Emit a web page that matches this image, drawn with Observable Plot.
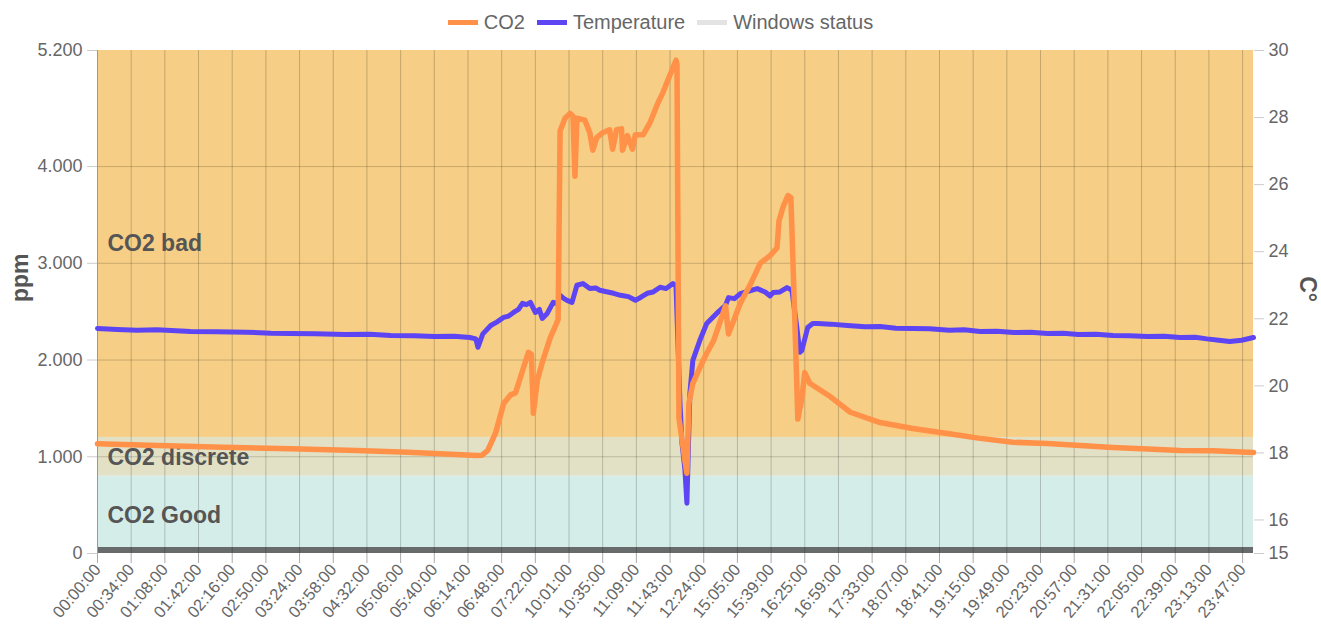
<!DOCTYPE html>
<html><head><meta charset="utf-8">
<script src="https://cdn.jsdelivr.net/npm/d3@7"></script>
<script src="https://cdn.jsdelivr.net/npm/@observablehq/plot@0.6"></script>
<style>
body{margin:0;background:#fff;font-family:"Liberation Sans",Arial,sans-serif;}
#legend{height:44px;display:flex;justify-content:center;align-items:center;font-size:20px;color:#666;}
.item{display:flex;align-items:center;margin:0 6px;}
.sw{width:30px;height:5px;margin-right:6px;}
</style></head><body>
<div id="legend"></div><div id="chart"></div>
<script>
// ---- data ----
const tickLabels = ["00:00:00","00:34:00","01:08:00","01:42:00","02:16:00","02:50:00","03:24:00","03:58:00","04:32:00","05:06:00","05:40:00","06:14:00","06:48:00","07:22:00","10:01:00","10:35:00","11:09:00","11:43:00","12:24:00","15:05:00","15:39:00","16:25:00","16:59:00","17:33:00","18:07:00","18:41:00","19:15:00","19:49:00","20:23:00","20:57:00","21:31:00","22:05:00","22:39:00","23:13:00","23:47:00"];
const pointCount = 1168;

const co2Idx = [0,61,127,195,262,313,346,383,388,394,402,410,417,422,430,435,438,440,444,449,457,463,465,467,472,477,480,482,484,492,497,500,504,510,517,520,524,529,530,535,540,543,551,558,565,571,578,584,585,587,593,595,597,601,608,615,622,629,634,637,642,649,659,669,679,686,688,692,697,700,704,707,711,714,719,740,760,790,823,858,891,924,959,992,1025,1060,1093,1126,1167];
const co2Ppm = [1135,1116,1099,1082,1065,1047,1030,1013,1015,1065,1250,1550,1640,1660,1920,2080,2060,1450,1790,1975,2230,2370,2420,4370,4500,4550,4520,3900,4500,4480,4350,4170,4300,4350,4380,4180,4380,4390,4170,4320,4180,4330,4330,4460,4640,4770,4950,5100,5060,1400,960,830,1550,1760,1920,2070,2200,2410,2560,2270,2400,2590,2780,3000,3080,3160,3440,3580,3700,3680,2400,1390,1600,1870,1760,1620,1460,1354,1292,1240,1190,1150,1137,1116,1096,1080,1065,1062,1045];

const tempIdx = [0,20,40,60,94,120,150,175,195,220,250,275,296,320,340,360,376,382,384,389,397,403,410,415,420,425,429,433,437,442,446,449,454,460,464,467,471,474,479,484,490,497,503,507,515,521,528,536,543,549,555,561,568,574,581,584,588,590,593,595,598,601,608,615,625,634,637,643,649,657,666,674,679,682,689,696,701,706,709,711,717,722,727,740,757,775,790,806,823,840,860,875,891,908,925,942,959,975,990,1008,1025,1042,1060,1077,1093,1108,1120,1132,1143,1155,1167];
const tempC = [21.71,21.68,21.66,21.67,21.62,21.61,21.60,21.57,21.56,21.55,21.53,21.54,21.50,21.49,21.47,21.48,21.44,21.40,21.15,21.55,21.80,21.90,22.04,22.08,22.19,22.28,22.46,22.42,22.49,22.19,22.28,22.01,22.16,22.49,22.45,22.70,22.60,22.55,22.49,23.00,23.05,22.90,22.92,22.85,22.80,22.76,22.70,22.66,22.55,22.65,22.76,22.80,22.94,22.90,23.05,23.00,19.5,18.3,17.5,16.5,19.77,20.76,21.35,21.86,22.16,22.40,22.63,22.60,22.75,22.82,22.90,22.80,22.68,22.78,22.80,22.93,22.85,21.74,21.0,21.05,21.74,21.86,21.86,21.84,21.80,21.76,21.77,21.72,21.71,21.70,21.66,21.67,21.62,21.63,21.59,21.60,21.56,21.57,21.53,21.54,21.50,21.49,21.47,21.48,21.44,21.45,21.40,21.36,21.32,21.36,21.44];

const bandNames = ["CO2 Good","CO2 discrete","CO2 bad"];
const bandLow = [0,800,1200];
const bandHigh = [800,1200,5200];

const windowsStart = [0];
const windowsEnd = [1167];

const leftTicks = [0,1000,2000,3000,4000,5200];
const rightTicks = [15,16,18,20,22,24,26,28,30];

// ---- build ----
const FONT = '"Liberation Sans", Arial, sans-serif';
const xMax = pointCount - 1;
const toPpm = t => (t - 15) / 15 * 5200;
const bandColor = {"CO2 Good":"#d5ede9","CO2 discrete":"#e3e1c5","CO2 bad":"#f6ce85"};
const bandLabelPpm = {"CO2 Good":393,"CO2 discrete":992,"CO2 bad":3205};

const co2Data = co2Idx.map((x,i)=>({x, y: co2Ppm[i]}));
const tempData = tempIdx.map((x,i)=>({x, y: toPpm(tempC[i])}));
const bands = bandNames.map((n,i)=>({name:n, lo:bandLow[i], hi:bandHigh[i]}));
const windows = windowsStart.map((s,i)=>({s, e: windowsEnd[i]}));
const tickIdx = tickLabels.map((_,i)=>i*34);

const legendItems = [["CO2","#ff9148"],["Temperature","#5d45f3"],["Windows status","#e3e3e3"]];
const lg = document.getElementById("legend");
legendItems.forEach(([n,c])=>{
  const it = document.createElement("div"); it.className="item";
  const sw = document.createElement("div"); sw.className="sw"; sw.style.background=c;
  const tx = document.createElement("span"); tx.textContent=n;
  it.appendChild(sw); it.appendChild(tx); lg.appendChild(it);
});

const chart = Plot.plot({
  width:1321, height:593, marginTop:6, marginBottom:84, marginLeft:97, marginRight:68,
  style:{fontFamily:FONT, background:"#fff", overflow:"visible"},
  x:{domain:[0,xMax]},
  y:{domain:[0,5200]},
  color:{type:"identity"},
  marks:[
    Plot.rect(bands, {x1:0, x2:xMax, y1:"lo", y2:"hi", fill:d=>bandColor[d.name]}),
    Plot.rect(windows, {x1:"s", x2:"e", y1:0, y2:62, fill:"#676b6b"}),
    Plot.ruleX(tickIdx, {y1:0, y2:5200, stroke:"#000", strokeOpacity:0.2}),
    Plot.ruleY([1000,2000,3000,4000], {x1:0, x2:xMax, stroke:"#000", strokeOpacity:0.18}),
    Plot.ruleX([0], {y1:0, y2:5200, stroke:"#999"}),
    Plot.axisX(tickIdx, {tickFormat:d=>tickLabels[Math.round(d/34)], tickRotate:-50, tickSize:10, tickPadding:3, fontSize:16.5, fill:"#666", stroke:"#aaa", label:null}),
    Plot.axisY(leftTicks, {anchor:"left", tickFormat:d=>d3.format(",")(d).replace(/,/g,"."), tickSize:10, tickPadding:5, fontSize:18, fill:"#666", stroke:"#ccc", label:null}),
    Plot.axisY(rightTicks.map(toPpm), {anchor:"right", tickFormat:d=>String(Math.round(d/5200*15+15)), tickSize:10, tickPadding:5, fontSize:18, fill:"#666", stroke:"#ccc", label:null}),
    Plot.text(bandNames, {x:10, y:d=>bandLabelPpm[d], text:d=>d, textAnchor:"start", lineAnchor:"middle", fontSize:23, fontWeight:"bold", fill:"#555"}),
    Plot.text(["ppm"], {frameAnchor:"left", dx:-77, rotate:-90, text:d=>d, fontSize:23, fontWeight:"bold", fill:"#555"}),
    Plot.text(["C°"], {frameAnchor:"right", dx:54, rotate:90, text:d=>d, fontSize:23, fontWeight:"bold", fill:"#555"}),
    Plot.line(tempData, {x:"x", y:"y", stroke:"#5d45f3", strokeWidth:5, strokeLinejoin:"round"}),
    Plot.line(co2Data, {x:"x", y:"y", stroke:"#ff9148", strokeWidth:5.5, strokeLinejoin:"round"})
  ]
});
document.getElementById("chart").appendChild(chart);
</script></body></html>
